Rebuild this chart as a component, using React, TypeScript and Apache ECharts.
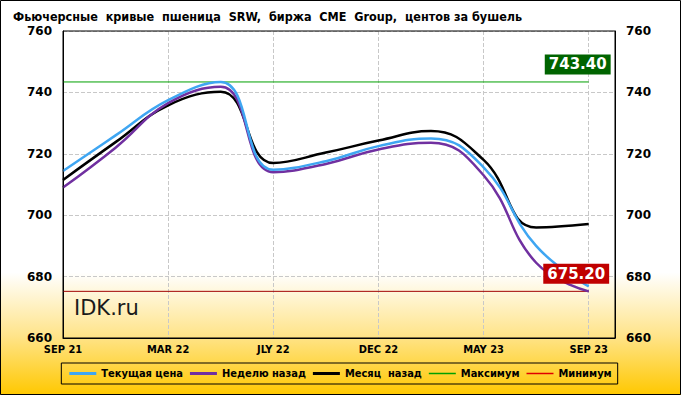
import React, { useEffect, useRef } from "react";
import * as echarts from "echarts";

const categories = ["SEP 21", "DEC 21", "MAR 22", "MAY 22", "JLY 22", "SEP 22", "DEC 22", "MAR 23", "MAY 23", "JLY 23", "SEP 23"];
const currentPrice = [714.4, 726.0, 737.5, 743.4, 714.8, 717.6, 722.5, 725.0, 715.6, 690.0, 676.8];
const weekAgo = [709.0, 722.0, 736.5, 741.8, 714.0, 716.7, 721.4, 723.6, 713.0, 684.5, 675.2];
const monthAgo = [711.5, 723.8, 735.8, 740.2, 717.0, 720.4, 724.3, 727.4, 718.0, 696.0, 697.1];
const maxPrice = 743.4;
const minPrice = 675.2;
const yTicks = { min: 660, max: 760, step: 20 };

const COND = "'DejaVu Sans Condensed', 'Liberation Sans Narrow', sans-serif";
const SANS = "'DejaVu Sans', Verdana, sans-serif";

const THICK_ICON = "path://M0,0H27V3H0Z";
const THIN_ICON = "path://M0,0H27V1.5H0Z";

export default function App() {
  const ref = useRef<HTMLDivElement>(null);
  useEffect(() => {
    if (!ref.current) return;
    document.body.style.margin = "0";
    const chart = echarts.init(ref.current, undefined, { renderer: "svg" });
    const toPairs = (arr: number[]) => arr.map((v, i) => [i, v]);
    const lastIdx = categories.length - 1;
    const lineSeries = (name: string, data: number[], color: string) => ({
      name,
      type: "line",
      data: toPairs(data),
      smooth: 0.45,
      symbol: "none",
      lineStyle: { color, width: 2.5 },
      itemStyle: { color },
      z: 3,
    });
    const levelSeries = (name: string, value: number, color: string, lineColor: string, boxColor: string, offset: number[]) => ({
      name,
      type: "line",
      data: [[0, value], [lastIdx, value]],
      symbol: "none",
      lineStyle: { color: lineColor, width: 1 },
      itemStyle: { color },
      z: 2,
      markPoint: {
        symbol: "circle",
        symbolSize: 0,
        data: [{ coord: [lastIdx, value] }],
        label: {
          show: true,
          position: "inside",
          offset,
          formatter: () => value.toFixed(2),
          color: "#fff",
          fontWeight: "bold",
          fontSize: 15,
          fontFamily: SANS,
          backgroundColor: boxColor,
          padding: [3, 4, 2, 4],
        },
        z: 6,
      },
    });
    chart.setOption({
      animation: false,
      backgroundColor: new echarts.graphic.LinearGradient(0, 0, 0, 1, [
        { offset: 0, color: "#ffffff" },
        { offset: 0.69, color: "#ffffff" },
        { offset: 0.85, color: "#ffe48a" },
        { offset: 1, color: "#ffc800" },
      ]),
      title: {
        text: "Фьючерсные  кривые  пшеница  SRW,  биржа  CME  Group,  центов за бушель",
        left: 8,
        top: 5,
        textStyle: { fontSize: 12.5, fontWeight: "bold", color: "#000", fontFamily: COND },
      },
      graphic: [
        {
          type: "rect",
          shape: { x: 0.5, y: 0.5, width: 680, height: 394 },
          style: { fill: "none", stroke: "#000", lineWidth: 1 },
          z: 20,
        },
        {
          type: "text",
          left: 74,
          top: 297,
          style: { text: "IDK.ru", fontSize: 21, fill: "#1a1a1a", fontFamily: SANS },
          z: 20,
        },
      ],
      legend: {
        left: "center",
        top: 363,
        borderColor: "#000",
        borderWidth: 1,
        padding: [5, 6, 5, 8],
        itemGap: 7,
        itemWidth: 27,
        itemHeight: 10,
        symbolKeepAspect: true,
        textStyle: { fontSize: 11, fontWeight: "bold", color: "#000", fontFamily: COND },
        data: [
          { name: "Текущая цена", icon: THICK_ICON },
          { name: "Неделю назад", icon: THICK_ICON },
          { name: "Месяц  назад", icon: THICK_ICON },
          { name: "Максимум", icon: THIN_ICON },
          { name: "Минимум", icon: THIN_ICON },
        ],
      },
      grid: {
        left: 63,
        right: 66,
        top: 31,
        bottom: 57,
        show: true,
        borderColor: "#000",
        borderWidth: 1,
        backgroundColor: "transparent",
        z: 10,
      },
      xAxis: {
        type: "value",
        min: 0,
        max: lastIdx + 0.5,
        interval: 2,
        axisLine: { show: true, lineStyle: { color: "#000" } },
        axisTick: { show: false },
        axisLabel: {
          formatter: (v: number) => (Number.isInteger(v) && categories[v] ? categories[v] : ""),
          fontWeight: "bold",
          fontSize: 11,
          color: "#000",
          fontFamily: COND,
          margin: 6,
          showMaxLabel: false,
        },
        splitLine: { show: true, lineStyle: { type: "dashed", color: "#c8c8c8" } },
      },
      yAxis: [
        {
          type: "value",
          min: yTicks.min,
          max: yTicks.max,
          interval: yTicks.step,
          axisLine: { show: true, lineStyle: { color: "#000" } },
          axisTick: { show: false },
          axisLabel: { fontWeight: "bold", fontSize: 12, color: "#000", fontFamily: SANS, margin: 11 },
          splitLine: { show: true, lineStyle: { type: "dashed", color: "#c8c8c8" } },
        },
        {
          type: "value",
          position: "right",
          min: yTicks.min,
          max: yTicks.max,
          interval: yTicks.step,
          axisLine: { show: true, lineStyle: { color: "#000" } },
          axisTick: { show: false },
          axisLabel: { fontWeight: "bold", fontSize: 12, color: "#000", fontFamily: SANS, margin: 11 },
          splitLine: { show: false },
        },
      ],
      series: [
        levelSeries("Максимум", maxPrice, "#00a000", "#00a000", "#006400", [-11, -17.5]),
        levelSeries("Минимум", minPrice, "#e00000", "#a00000", "#c00000", [-12.5, -17.5]),
        lineSeries("Месяц  назад", monthAgo, "#000000"),
        lineSeries("Неделю назад", weekAgo, "#7030a0"),
        lineSeries("Текущая цена", currentPrice, "#3fa6f2"),
      ],
    });
    return () => chart.dispose();
  }, []);
  return <div ref={ref} style={{ position: "absolute", left: 0, top: 0, width: 681, height: 395 }} />;
}
